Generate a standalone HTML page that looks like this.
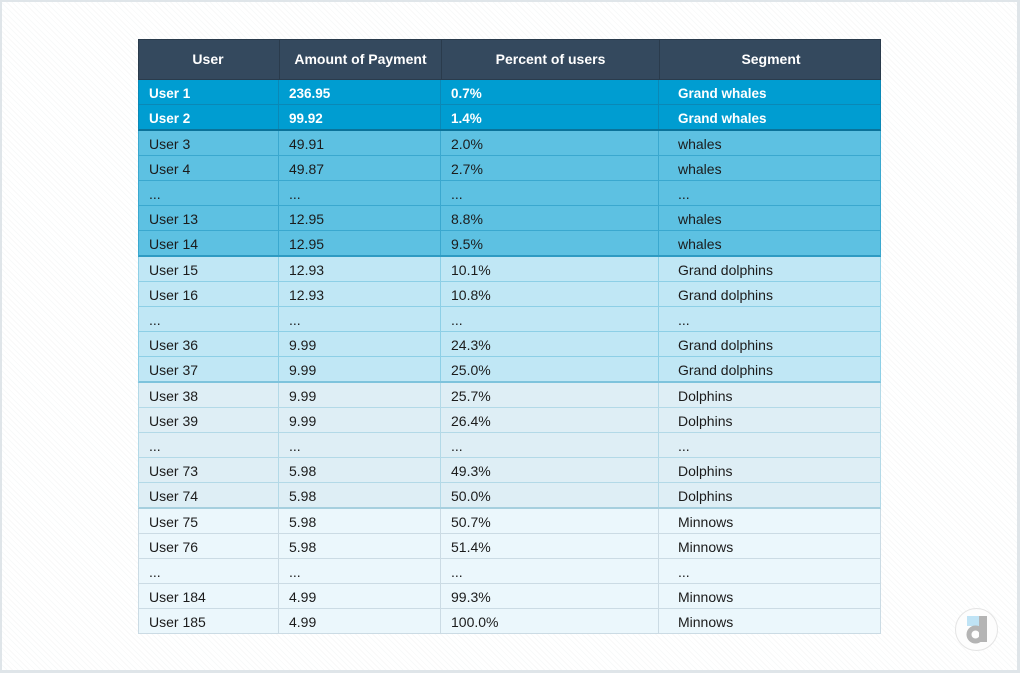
<!DOCTYPE html>
<html>
<head>
<meta charset="utf-8">
<style>
  html, body { margin:0; padding:0; }
  body {
    width:1020px; height:673px; position:relative; overflow:hidden;
    font-family:"Liberation Sans", Arial, sans-serif;
    background:#ffffff;
  }
  .frame {
    position:absolute; left:0; top:0; width:1015px; height:668px;
    border-top:2px solid #dfe5e9; border-left:2px solid #dfe5e9;
    border-right:3px solid #dfe5e9; border-bottom:3px solid #dfe5e9;
    background: repeating-linear-gradient(45deg, #ffffff 0px, #ffffff 3px, #f8f9f9 3px, #f8f9f9 4px);
  }
  .tbl { position:absolute; left:138px; top:39px; width:743px; }
  .row { position:absolute; left:0; width:743px; box-sizing:border-box; }
  .cell { position:absolute; top:0; bottom:0; box-sizing:border-box; white-space:nowrap; }
  .c1 { left:0; width:140px; padding-left:10px; }
  .c2 { left:140px; width:162px; padding-left:10px; }
  .c3 { left:302px; width:218px; padding-left:10px; }
  .c4 { left:520px; width:223px; padding-left:19px; }
  .hdr { top:0; height:41px; background:#34495e; border:1px solid #2a3b4c; color:#fff; font-weight:bold; font-size:14px; }
  .hdr .cell { text-align:center; padding-left:0; line-height:39px; }
  .hdr .c2, .hdr .c3, .hdr .c4 { border-left:1px solid #2a3b4c; }
  .hdr .c1 { left:-1px; }
  .r { height:25px; font-size:14px; color:#1b1b1b; line-height:25px; border-left:1px solid; border-right:1px solid; border-bottom:1px solid; }
  .r .cell { top:0; height:24px; padding-top:1px; }
  .r .c1 { left:0; }
  .r .c2, .r .c3, .r .c4 { border-left:1px solid; }
  .r .c2 { left:139px; } .r .c3 { left:301px; } .r .c4 { left:519px; }
  .last { height:26px; border-bottom-width:2px; }
  .g1 { background:#009dd1; color:#fff; font-weight:bold; font-size:13.5px; border-color:#0a88b6; }
  .g1 .cell { border-color:#0a88b6; }
  .g1.last { border-bottom-color:#0b739a; }
  .g2 { background:#5dc1e2; border-color:#3aa8cf; }
  .g2 .cell { border-color:#3aa8cf; }
  .g2.last { border-bottom-color:#2e9bc3; }
  .g3 { background:#c0e7f5; border-color:#8dcfe6; }
  .g3 .cell { border-color:#8dcfe6; }
  .g3.last { border-bottom-color:#7ec3dc; }
  .g4 { background:#deeef5; border-color:#b3d9e7; }
  .g4 .cell { border-color:#b3d9e7; }
  .g4.last { border-bottom-color:#a6cfde; }
  .g5 { background:#ebf7fc; border-color:#cbdbe4; }
  .g5 .cell { border-color:#cbdbe4; }
  .logo { position:absolute; left:955px; top:608px; width:43px; height:43px; border-radius:50%; border:1.5px solid #e4e4e4; background:#fdfdfd; box-sizing:border-box; }
</style>
</head>
<body>
<div class="frame"></div>
<div class="tbl">
  <div class="row hdr"><div class="cell c1">User</div><div class="cell c2">Amount of Payment</div><div class="cell c3">Percent of users</div><div class="cell c4">Segment</div></div>

  <div class="row r g1" style="top:41px"><div class="cell c1">User 1</div><div class="cell c2">236.95</div><div class="cell c3">0.7%</div><div class="cell c4">Grand whales</div></div>
  <div class="row r g1 last" style="top:66px"><div class="cell c1">User 2</div><div class="cell c2">99.92</div><div class="cell c3">1.4%</div><div class="cell c4">Grand whales</div></div>

  <div class="row r g2" style="top:92px"><div class="cell c1">User 3</div><div class="cell c2">49.91</div><div class="cell c3">2.0%</div><div class="cell c4">whales</div></div>
  <div class="row r g2" style="top:117px"><div class="cell c1">User 4</div><div class="cell c2">49.87</div><div class="cell c3">2.7%</div><div class="cell c4">whales</div></div>
  <div class="row r g2" style="top:142px"><div class="cell c1">...</div><div class="cell c2">...</div><div class="cell c3">...</div><div class="cell c4">...</div></div>
  <div class="row r g2" style="top:167px"><div class="cell c1">User 13</div><div class="cell c2">12.95</div><div class="cell c3">8.8%</div><div class="cell c4">whales</div></div>
  <div class="row r g2 last" style="top:192px"><div class="cell c1">User 14</div><div class="cell c2">12.95</div><div class="cell c3">9.5%</div><div class="cell c4">whales</div></div>

  <div class="row r g3" style="top:218px"><div class="cell c1">User 15</div><div class="cell c2">12.93</div><div class="cell c3">10.1%</div><div class="cell c4">Grand dolphins</div></div>
  <div class="row r g3" style="top:243px"><div class="cell c1">User 16</div><div class="cell c2">12.93</div><div class="cell c3">10.8%</div><div class="cell c4">Grand dolphins</div></div>
  <div class="row r g3" style="top:268px"><div class="cell c1">...</div><div class="cell c2">...</div><div class="cell c3">...</div><div class="cell c4">...</div></div>
  <div class="row r g3" style="top:293px"><div class="cell c1">User 36</div><div class="cell c2">9.99</div><div class="cell c3">24.3%</div><div class="cell c4">Grand dolphins</div></div>
  <div class="row r g3 last" style="top:318px"><div class="cell c1">User 37</div><div class="cell c2">9.99</div><div class="cell c3">25.0%</div><div class="cell c4">Grand dolphins</div></div>

  <div class="row r g4" style="top:344px"><div class="cell c1">User 38</div><div class="cell c2">9.99</div><div class="cell c3">25.7%</div><div class="cell c4">Dolphins</div></div>
  <div class="row r g4" style="top:369px"><div class="cell c1">User 39</div><div class="cell c2">9.99</div><div class="cell c3">26.4%</div><div class="cell c4">Dolphins</div></div>
  <div class="row r g4" style="top:394px"><div class="cell c1">...</div><div class="cell c2">...</div><div class="cell c3">...</div><div class="cell c4">...</div></div>
  <div class="row r g4" style="top:419px"><div class="cell c1">User 73</div><div class="cell c2">5.98</div><div class="cell c3">49.3%</div><div class="cell c4">Dolphins</div></div>
  <div class="row r g4 last" style="top:444px"><div class="cell c1">User 74</div><div class="cell c2">5.98</div><div class="cell c3">50.0%</div><div class="cell c4">Dolphins</div></div>

  <div class="row r g5" style="top:470px"><div class="cell c1">User 75</div><div class="cell c2">5.98</div><div class="cell c3">50.7%</div><div class="cell c4">Minnows</div></div>
  <div class="row r g5" style="top:495px"><div class="cell c1">User 76</div><div class="cell c2">5.98</div><div class="cell c3">51.4%</div><div class="cell c4">Minnows</div></div>
  <div class="row r g5" style="top:520px"><div class="cell c1">...</div><div class="cell c2">...</div><div class="cell c3">...</div><div class="cell c4">...</div></div>
  <div class="row r g5" style="top:545px"><div class="cell c1">User 184</div><div class="cell c2">4.99</div><div class="cell c3">99.3%</div><div class="cell c4">Minnows</div></div>
  <div class="row r g5" style="top:570px"><div class="cell c1">User 185</div><div class="cell c2">4.99</div><div class="cell c3">100.0%</div><div class="cell c4">Minnows</div></div>
</div>

<div class="logo"></div>
<svg style="position:absolute;left:955px;top:608px" width="43" height="43" viewBox="0 0 43 43">
  <rect x="12" y="8" width="12" height="10" fill="#bfe3f5"/>
  <circle cx="20.5" cy="26.5" r="6.5" fill="none" stroke="#b4b4b4" stroke-width="5"/>
  <rect x="24" y="8" width="8" height="26" fill="#b4b4b4"/>
</svg>
</body>
</html>
